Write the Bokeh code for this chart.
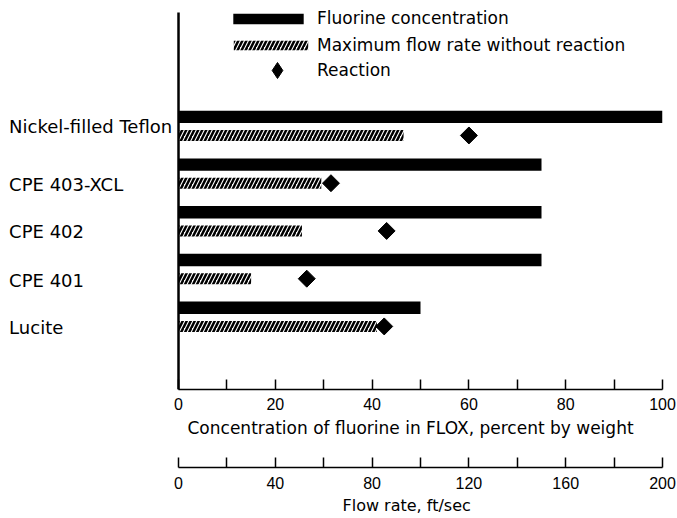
import numpy as np
from bokeh.plotting import figure
from bokeh.models import (Range1d, LinearAxis, FixedTicker, Legend, LegendItem,
                          Title, ColumnDataSource)
from bokeh.core.properties import value
from bokeh.embed import file_html
from bokeh.resources import INLINE

# ---- data ----
materials = ["Nickel-filled Teflon", "CPE 403-XCL", "CPE 402", "CPE 401", "Lucite"]
fluorine_pct = [100, 75, 75, 75, 50]            # percent by weight
max_flow_no_reaction = [93, 59, 51, 30, 82]     # ft/sec
reaction_flow = [120, 63, 86, 53, 85]           # ft/sec
conc_ticks = [0, 20, 40, 60, 80, 100]
conc_minor_ticks = [10, 30, 50, 70, 90]
flow_ticks = [0, 40, 80, 120, 160, 200]
flow_minor_ticks = [20, 60, 100, 140, 180]

# ---- layout helpers (styles / positions) ----
FONT = "DejaVu Sans"
TICK_FONT = "Liberation Sans"
n = len(materials)
ypos = [n - 1 - i for i in range(n)]
bar_off = 0.195
label_dy = [-0.0, -0.22, -0.21, -0.23, -0.22]
left_pad = 36.78          # room for the category names, in percent units
y_start, y_end = -1.516, 6.632
axis_top = 6.379          # where the vertical axis line stops

src = ColumnDataSource(dict(
    material=materials,
    y_black=[y + bar_off for y in ypos],
    y_hatch=[y - bar_off for y in ypos],
    y_label=[y + d for y, d in zip(ypos, label_dy)],
    conc=fluorine_pct,
    flow=max_flow_no_reaction,
    react=reaction_flow,
))

p = figure(width=676, height=516, output_backend="svg", toolbar_location=None,
           x_range=Range1d(-left_pad, 100), y_range=Range1d(y_start, y_end),
           min_border_left=0, min_border_right=14, min_border_top=0,
           min_border_bottom=0)
p.extra_x_ranges = {"flow": Range1d(-2 * left_pad, 200)}
p.outline_line_color = None
p.xgrid.visible = False
p.ygrid.visible = False
p.yaxis.visible = False
p.background_fill_color = "white"

black = p.hbar(y="y_black", left=0, right="conc", height=0.26, source=src,
               fill_color="black", line_color=None)
hatched = p.hbar(y="y_hatch", left=0, right="flow", height=0.23, source=src,
                 x_range_name="flow", fill_color=None, line_color=None,
                 hatch_pattern="/", hatch_color="black", hatch_scale=8,
                 hatch_weight=2.5)
react = p.scatter(x="react", y="y_hatch", source=src, x_range_name="flow",
                  marker="square", size=12, angle=np.pi / 4,
                  fill_color="black", line_color="black")
# legend key for the reaction symbol (hidden on the plot itself)
react_key = p.scatter(x="react", y="y_hatch", source=src, x_range_name="flow",
                      marker="diamond", fill_color="black", line_color="black",
                      visible=False)

# vertical axis line
p.segment(x0=0, y0=y_start, x1=0, y1=axis_top, line_color="black",
          line_width=2.5)

# category names
p.text(x=-35, y="y_label", text="material", source=src, text_align="left",
       text_baseline="middle", text_font=value(FONT), text_font_size="18px",
       text_color="black")

def style_x(ax):
    ax.axis_line_width = 1.5
    ax.axis_line_color = "black"
    ax.major_tick_in = 10
    ax.major_tick_out = 0
    ax.minor_tick_in = 10
    ax.minor_tick_out = 0
    ax.major_tick_line_width = 1.5
    ax.minor_tick_line_width = 1.5
    ax.major_tick_line_color = "black"
    ax.minor_tick_line_color = "black"
    ax.major_label_text_font = TICK_FONT
    ax.major_label_text_font_size = "16px"
    ax.major_label_text_color = "black"

xa = p.xaxis[0]
xa.ticker = FixedTicker(ticks=conc_ticks, minor_ticks=conc_minor_ticks)
xa.bounds = (0, 100)
style_x(xa)
xa.major_label_standoff = 8

t1 = Title(text="Concentration of fluorine in FLOX,  percent by weight\n",
           align="left", offset=187, vertical_align="top", standoff=10,
           text_font=FONT, text_font_size="17px", text_font_style="normal",
           text_color="black", text_line_height=1.15)
p.add_layout(t1, "below")

xa2 = LinearAxis(x_range_name="flow",
                 ticker=FixedTicker(ticks=flow_ticks, minor_ticks=flow_minor_ticks))
style_x(xa2)
xa2.bounds = (0, 200)
xa2.major_label_standoff = 9
p.add_layout(xa2, "below")

t2 = Title(text="Flow rate,  ft/sec", align="left", offset=342,
           vertical_align="bottom", standoff=4, text_font=FONT,
           text_font_size="16px", text_font_style="normal", text_color="black")
p.add_layout(t2, "below")

# legends
def make_legend(item, renderer, loc, gw, gh, standoff):
    lg = Legend(items=[LegendItem(label=item, renderers=[renderer])],
                location=loc, glyph_width=gw, glyph_height=gh,
                label_standoff=standoff, padding=0, margin=0, spacing=0,
                border_line_color=None, background_fill_alpha=0,
                label_text_font=FONT, label_text_font_size="17px",
                label_text_color="black")
    p.add_layout(lg, "center")

make_legend("Fluorine concentration", black, (224, 361), 88, 13, 5)
make_legend("Maximum flow rate without reaction", hatched, (224, 334), 93, 12, 0)
make_legend("Reaction", react_key, (257, 299), 40, 40, 20)

open("out.html", "w").write(file_html(p, INLINE))
